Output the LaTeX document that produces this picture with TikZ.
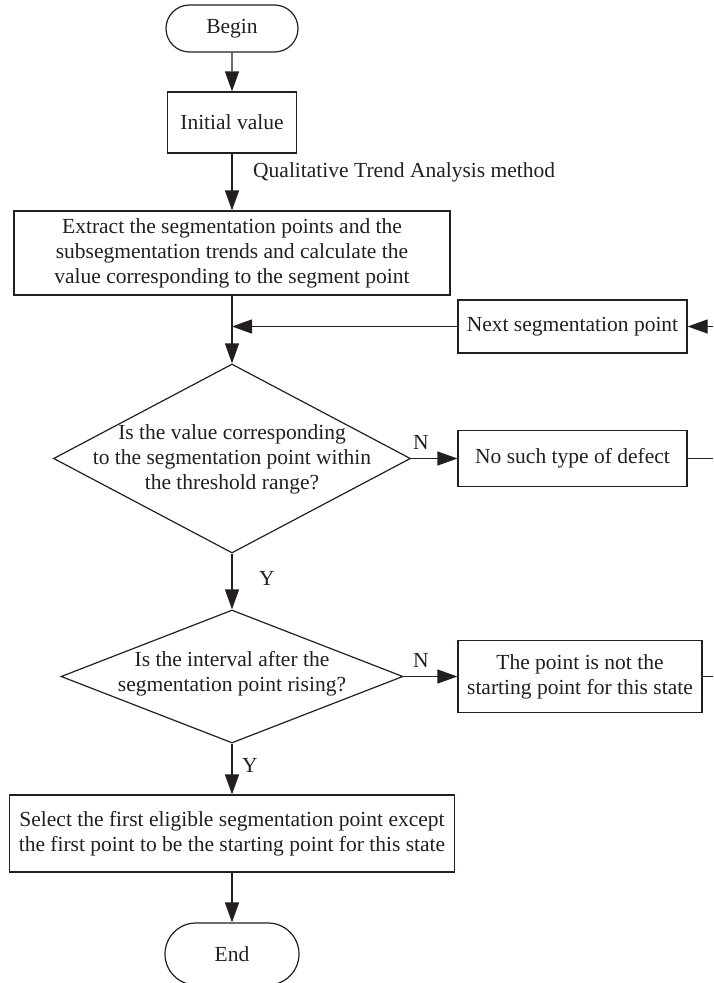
\documentclass[tikz,border=0pt]{standalone}
\usepackage{fontspec}
\setmainfont{Liberation Serif}
\usetikzlibrary{shapes.geometric,shapes.misc,arrows.meta}
\definecolor{ink}{RGB}{35,31,32}
\begin{document}
\begin{tikzpicture}[x=1pt,y=-1pt,
  every node/.style={text=ink,font=\fontsize{21.5}{25}\selectfont},
  line/.style={draw=ink,line width=1.2pt},
  arr/.style={line,-{Triangle[length=20pt,width=14pt]}},
  box/.style={draw=ink,line width=1.2pt,rectangle,inner sep=0pt,align=center},
  pill/.style={draw=ink,line width=1.2pt,rounded rectangle,inner sep=0pt},
  dia/.style={draw=ink,line width=1.2pt,diamond,inner sep=0pt,shape aspect=1}]
\useasboundingbox (0,0) rectangle (713,983);
% nodes
\node[pill,minimum width=132pt,minimum height=47pt] (begin) at (232,28.5) {Begin};
\node[box,minimum width=129pt,minimum height=61pt] (init) at (232,122.5) {Initial value};
\node[anchor=west,inner sep=0pt] (qta) at (253,172) {Qualitative Trend Analysis method};
\node[box,minimum width=436pt,minimum height=84pt] (extract) at (232,253)
  {Extract the segmentation points and the\\subsegmentation trends and calculate the\\value corresponding to the segment point};
\node[box,minimum width=229pt,minimum height=53pt] (next) at (572.5,326.5) {Next segmentation point};
\coordinate (rightA) at (713,326.5);
\coordinate (join) at (232,326.5);
\node[dia,minimum width=357pt,minimum height=189pt] (d1) at (232,458.5) {};
\node[align=center,inner sep=0pt] (d1t) at (232,459)
  {Is the value corresponding\\to the segmentation point within\\the threshold range?};
\node[box,minimum width=229pt,minimum height=56pt] (none) at (572.5,458.5) {No such type of defect};
\coordinate (rightB) at (713,458.5);
\node[inner sep=0pt] (n1) at (421,442) {N};
\node[inner sep=0pt] (y1) at (267,578) {Y};
\node[dia,minimum width=342pt,minimum height=133pt] (d2) at (232,676.5) {};
\node[align=center,inner sep=0pt] (d2t) at (232,674)
  {Is the interval after the\\segmentation point rising?};
\node[box,minimum width=244pt,minimum height=72pt] (pt) at (580,676.5)
  {The point is not the\\starting point for this state};
\coordinate (rightC) at (713,676.5);
\node[inner sep=0pt] (n2) at (421,660) {N};
\node[inner sep=0pt] (y2) at (250,765) {Y};
\node[box,minimum width=445pt,minimum height=77pt] (select) at (232,833.5)
  {Select the first eligible segmentation point except\\the first point to be the starting point for this state};
\node[pill,minimum width=134pt,minimum height=62pt] (end) at (232,954) {End};
% connectors
\draw[arr] (begin) -- (init);
\draw[arr] (init) -- (extract);
\draw[arr] (extract) -- (d1);
\draw[arr] (next) -- (join);
\draw[arr] (rightA) -- (next);
\draw[arr] (d1.east) -- (none.west);
\draw[line] (none.east) -- (rightB);
\draw[arr] (d1.south) -- (d2.north);
\draw[arr] (d2.east) -- (pt.west);
\draw[line] (pt.east) -- (rightC);
\draw[arr] (d2.south) -- (select.north);
\draw[arr] (select.south) -- (end.north);
\end{tikzpicture}
\end{document}
